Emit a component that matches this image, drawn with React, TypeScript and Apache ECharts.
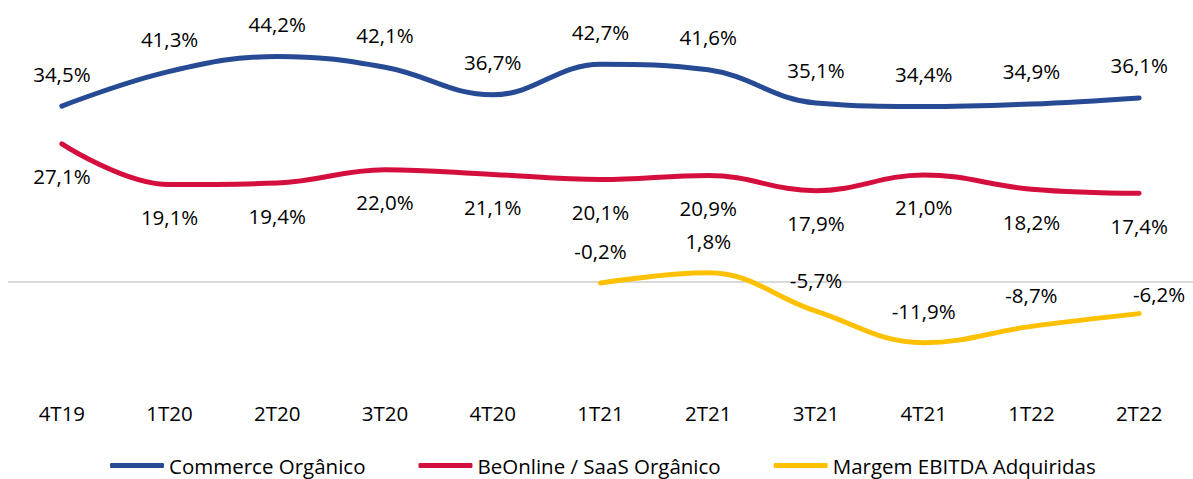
import React, { useEffect, useRef } from "react";
import * as echarts from "echarts";

const categories = ["4T19", "1T20", "2T20", "3T20", "4T20", "1T21", "2T21", "3T21", "4T21", "1T22", "2T22"];
const commerce = [34.5, 41.3, 44.2, 42.1, 36.7, 42.7, 41.6, 35.1, 34.4, 34.9, 36.1];
const beonline = [27.1, 19.1, 19.4, 22.0, 21.1, 20.1, 20.9, 17.9, 21.0, 18.2, 17.4];
const adquiridas = [null, null, null, null, null, -0.2, 1.8, -5.7, -11.9, -8.7, -6.2];
const seriesNames = ["Commerce Orgânico", "BeOnline / SaaS Orgânico", "Margem EBITDA Adquiridas"];

const FONT = "Open Sans";
const FS = 20.5;
const fmt = (p: any) => {
  const v = Array.isArray(p.value) ? p.value[1] : p.value;
  return Number(v).toFixed(1).replace(".", ",") + "%";
};

export default function App() {
  const ref = useRef<HTMLDivElement>(null);
  useEffect(() => {
    if (!ref.current) return;
    const chart = echarts.init(ref.current, null, { renderer: "svg" });
    const labelBase = { show: true, color: "#000", fontFamily: FONT, fontSize: FS, formatter: fmt };
    const common = {
      type: "line",
      smooth: 0.4,
      symbol: "circle",
      symbolSize: 0.1,
      showSymbol: true,
      z: 3,
    };
    chart.setOption({
      animation: false,
      backgroundColor: "#ffffff",
      textStyle: { fontFamily: FONT },
      grid: { left: 8, top: 27, width: 1192, height: 357, containLabel: false },
      xAxis: {
        type: "category",
        data: categories,
        boundaryGap: true,
        position: "bottom",
        axisLine: { show: false, onZero: false },
        axisTick: { show: false },
        axisLabel: { color: "#000", fontFamily: FONT, fontSize: FS, margin: 18 },
        splitLine: { show: false },
      },
      yAxis: {
        type: "value",
        min: -20,
        max: 50,
        interval: 10,
        show: false,
        splitLine: { show: false },
      },
      legend: {
        data: seriesNames,
        left: 105,
        top: 450,
        icon: "roundRect",
        itemWidth: 54,
        itemHeight: 5,
        itemGap: 53,
        textStyle: { color: "#000", fontFamily: FONT, fontSize: FS },
      },
      series: [
        {
          name: "zero",
          type: "line",
          data: [],
          z: 1,
          silent: true,
          markLine: {
            silent: true,
            symbol: "none",
            label: { show: false },
            lineStyle: { color: "#D9D9D9", width: 2, type: "solid" },
            data: [{ yAxis: 0 }],
            z: 1,
          },
        },
        {
          ...common,
          name: seriesNames[0],
          data: commerce,
          color: "#264A93",
          itemStyle: { color: "#264A93" },
          lineStyle: { width: 5, color: "#264A93", cap: "round" },
          label: { ...labelBase, position: "top", distance: 22 },
          labelLayout: { hideOverlap: false },
        },
        {
          ...common,
          name: seriesNames[1],
          data: beonline,
          color: "#D50F3D",
          itemStyle: { color: "#D50F3D" },
          lineStyle: { width: 5, color: "#D50F3D", cap: "round" },
          label: { ...labelBase, position: "bottom", distance: 22 },
          labelLayout: { hideOverlap: false },
        },
        {
          ...common,
          name: seriesNames[2],
          data: adquiridas,
          color: "#FFC000",
          itemStyle: { color: "#FFC000" },
          lineStyle: { width: 5, color: "#FFC000", cap: "round" },
          label: { ...labelBase, position: "top", distance: 21 },
          labelLayout: (params: any) =>
            params.dataIndex === adquiridas.length - 1 ? { dx: 20, dy: 12 } : {},
        },
      ],
    });
    return () => chart.dispose();
  }, []);
  return (
    <div
      ref={ref}
      style={{ position: "absolute", left: 0, top: 0, width: 1193, height: 479 }}
    />
  );
}
